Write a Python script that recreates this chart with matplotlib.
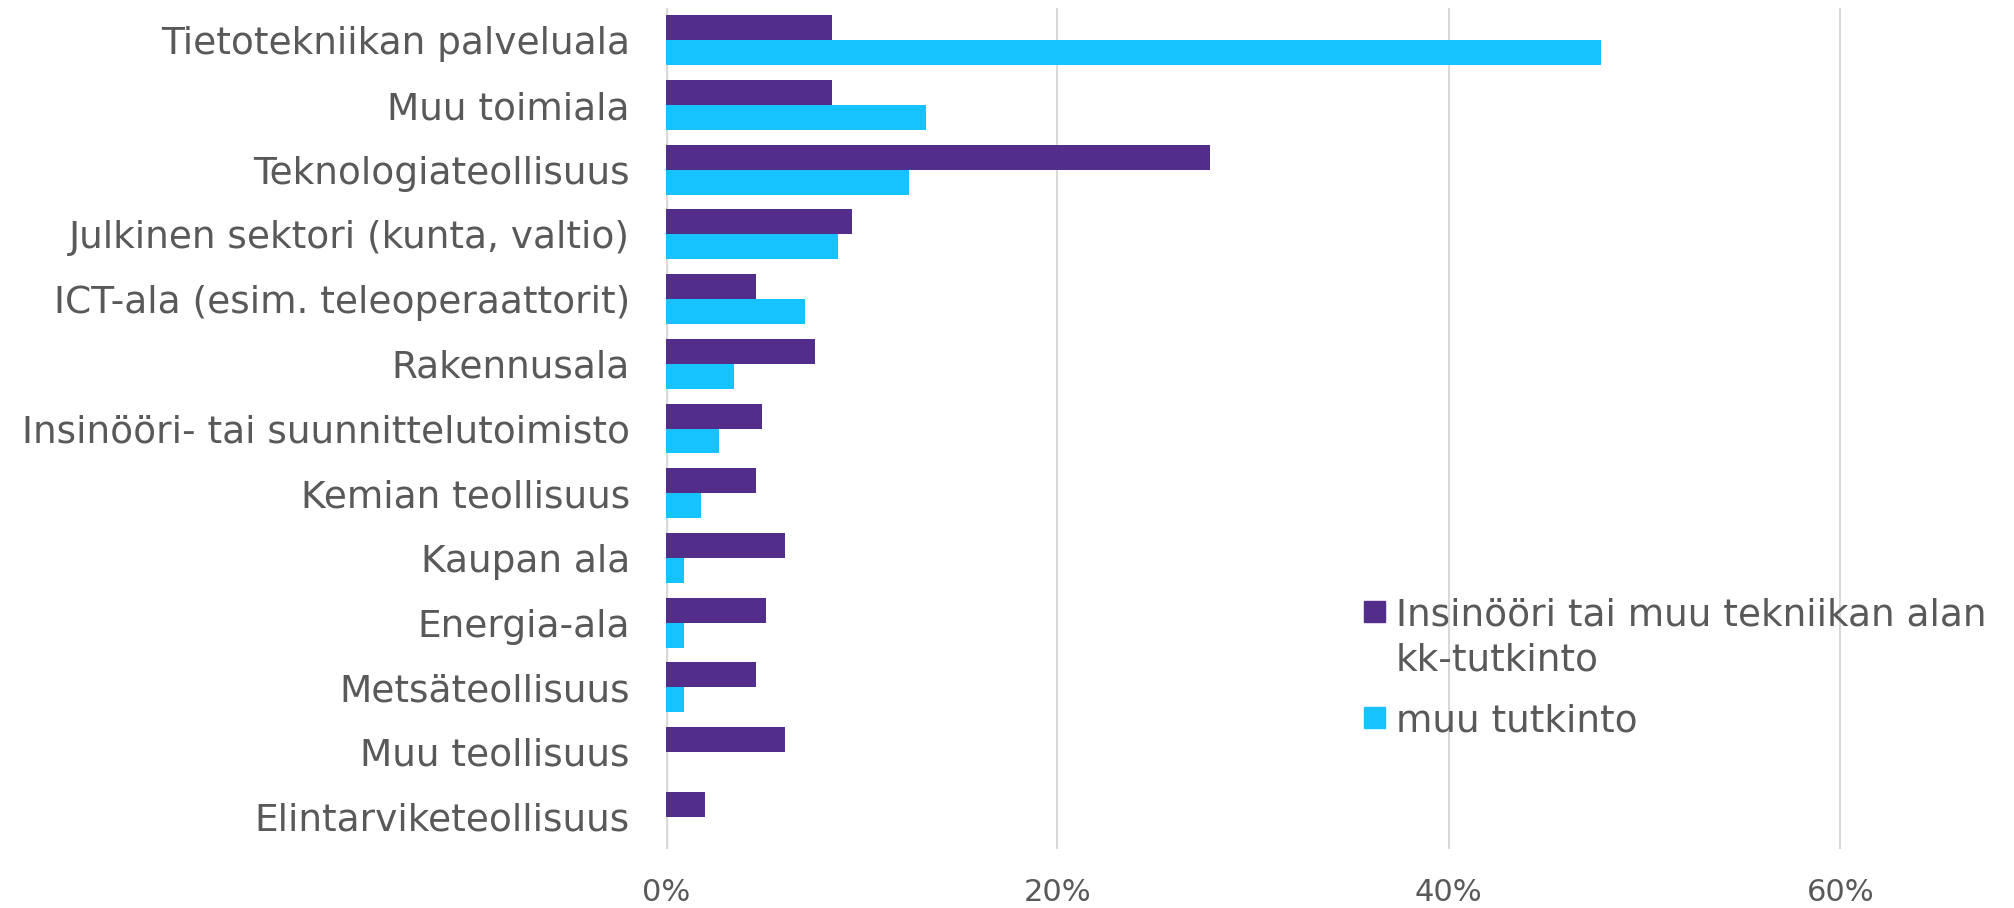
import numpy as np
import matplotlib.pyplot as plt
from matplotlib.patches import Rectangle

# Share of respondents by sector, two groups
categories = [
    'Tietotekniikan palveluala',
    'Muu toimiala',
    'Teknologiateollisuus',
    'Julkinen sektori (kunta, valtio)',
    'ICT-ala (esim. teleoperaattorit)',
    'Rakennusala',
    'Insinööri- tai suunnittelutoimisto',
    'Kemian teollisuus',
    'Kaupan ala',
    'Energia-ala',
    'Metsäteollisuus',
    'Muu teollisuus',
    'Elintarviketeollisuus',
]
insinoori = [8.5, 8.5, 27.8, 9.5, 4.6, 7.6, 4.9, 4.6, 6.1, 5.1, 4.6, 6.1, 2.0]
muu = [47.8, 13.3, 12.4, 8.8, 7.1, 3.5, 2.7, 1.8, 0.9, 0.9, 0.9, 0.0, 0.0]
series_names = ['Insinööri tai muu tekniikan alan\nkk-tutkinto', 'muu tutkinto']
xticks = [0, 20, 40, 60]

purple = '#532D8A'
cyan = '#17C3FF'
text_col = '#595959'
colors = [purple, cyan]

fig = plt.figure(figsize=(20.15, 9.08), dpi=100)
ax = fig.add_axes([666 / 2015, 1 - 849 / 908, 1 - 666 / 2015, 841 / 908])

y = np.arange(len(categories))
h = 0.386
ax.barh(y - h / 2, np.array(insinoori) / 100, height=h, color=purple)
ax.barh(y + h / 2, np.array(muu) / 100, height=h, color=cyan)

ax.set_ylim(len(categories) - 0.5, -0.5)
ax.set_xlim(0, 1349 / 1957)
ax.set_xticks([t / 100 for t in xticks])
ax.set_xticklabels([f'{t}%' for t in xticks], fontsize=22, color=text_col)
ax.set_yticks(y)
ax.set_yticklabels(categories, fontsize=27, color=text_col)
ax.tick_params(axis='x', length=0, pad=21)
ax.tick_params(axis='y', length=0, pad=26)

for s in ax.spines.values():
    s.set_visible(False)
ax.grid(axis='x', color='#D9D9D9', linewidth=1.5)
ax.set_axisbelow(True)
ax.axvline(0, color='#D9D9D9', linewidth=2.5, zorder=0)

# legend drawn by hand so the square sits on the first line of a wrapped label
W, H = 2015, 908
sq_tops = [601, 707]
for name, col, top in zip(series_names, colors, sq_tops):
    fig.patches.append(Rectangle((1364 / W, 1 - (top + 21) / H), 21 / W, 21 / H,
                                 transform=fig.transFigure, color=col))
    fig.text(1396 / W, 1 - (top + 10.5) / H, name.split('\n')[0], fontsize=27,
             color=text_col, va='center_baseline', ha='left')
    if '\n' in name:
        fig.text(1396 / W, 1 - (top + 10.5 + 45) / H, name.split('\n')[1], fontsize=27,
                 color=text_col, va='center_baseline', ha='left')

fig.savefig('out.png', dpi=100)
